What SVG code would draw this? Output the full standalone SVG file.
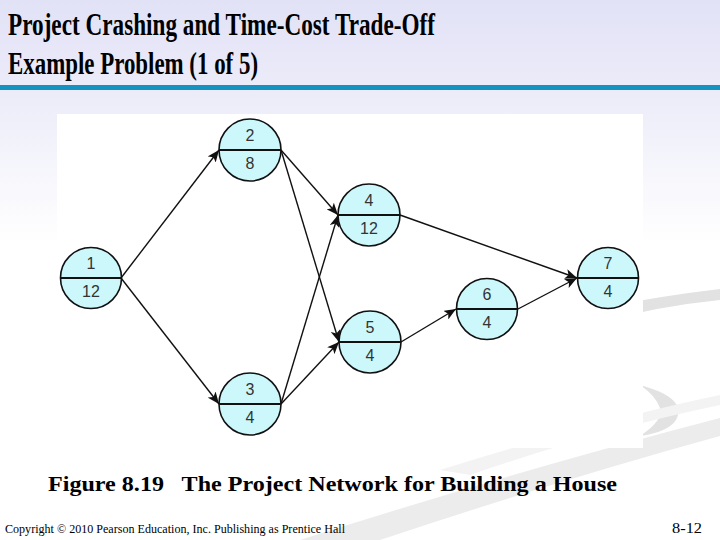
<svg xmlns="http://www.w3.org/2000/svg" width="720" height="540" viewBox="0 0 720 540">
<defs>
<linearGradient id="bg" x1="0" y1="0" x2="0" y2="1">
<stop offset="0" stop-color="#e2e2f7"/>
<stop offset="0.16" stop-color="#ebebf9"/>
<stop offset="0.45" stop-color="#ffffff"/>
<stop offset="1" stop-color="#ffffff"/>
</linearGradient>
<marker id="ah" markerUnits="userSpaceOnUse" markerWidth="14" markerHeight="10" refX="12" refY="5" orient="auto">
<path d="M0,0 L12,5 L0,10 L3,5 Z" fill="#111"/>
</marker>
<style>
.edge{stroke:#111;stroke-width:1.4;fill:none;marker-end:url(#ah)}
.node circle{fill:#ccf8fc;stroke:#111;stroke-width:1.6}
.node line{stroke:#111;stroke-width:1.8}
.node text{font-family:"Liberation Sans",Arial,sans-serif;font-size:16px;fill:#333;text-anchor:middle}
.serif{font-family:"Liberation Serif","Times New Roman",serif;fill:#000}
</style>
</defs>
<rect width="720" height="540" fill="url(#bg)"/>
<!-- swooshes -->
<path d="M600,308 Q660,296 720,289 L720,300 Q660,306 600,322 Z" fill="#e2e2e2"/>
<path d="M640,385 Q688,398 676,420 Q668,432 640,436 Q664,420 660,408 Q656,396 640,385 Z" fill="#e2e2e2"/>
<path d="M300,540 Q520,470 720,418 L720,436 Q560,480 380,540 Z" fill="#ececec"/>
<path d="M440,470 Q600,420 720,395 L720,405 Q600,430 470,475 Z" fill="#f3f3f3"/>
<!-- white panel -->
<rect x="57" y="114" width="586" height="334" fill="#ffffff"/>
<!-- title -->
<text class="serif" x="8" y="35" font-size="31" font-weight="bold" textLength="427" lengthAdjust="spacingAndGlyphs">Project Crashing and Time-Cost Trade-Off</text>
<text class="serif" x="8" y="74" font-size="31" font-weight="bold" textLength="250" lengthAdjust="spacingAndGlyphs">Example Problem (1 of 5)</text>
<rect x="0" y="85" width="720" height="5" fill="#1592c2"/>
<!-- connectors -->
<g id="connectors">
<line class="edge" x1="121" y1="278" x2="219" y2="150"/>
<line class="edge" x1="121" y1="278" x2="219" y2="404"/>
<line class="edge" x1="281" y1="150" x2="338" y2="215"/>
<line class="edge" x1="281" y1="150" x2="339" y2="342"/>
<line class="edge" x1="281" y1="404" x2="338" y2="215"/>
<line class="edge" x1="281" y1="404" x2="339" y2="342"/>
<line class="edge" x1="400" y1="215" x2="577" y2="278"/>
<line class="edge" x1="401" y1="342" x2="456" y2="309"/>
<line class="edge" x1="518" y1="309" x2="577" y2="278"/>
</g>
<!-- nodes -->
<g id="node1" class="node"><circle cx="91" cy="278" r="30.5"/><line x1="60.5" y1="278" x2="121.5" y2="278"/><text x="91" y="269">1</text><text x="91" y="297">12</text></g>
<g id="node2" class="node"><circle cx="250" cy="150" r="31"/><line x1="219" y1="150" x2="281" y2="150"/><text x="250" y="141">2</text><text x="250" y="169">8</text></g>
<g id="node3" class="node"><circle cx="250" cy="404" r="31"/><line x1="219" y1="404" x2="281" y2="404"/><text x="250" y="395">3</text><text x="250" y="423">4</text></g>
<g id="node4" class="node"><circle cx="369" cy="215" r="31"/><line x1="338" y1="215" x2="400" y2="215"/><text x="369" y="206">4</text><text x="369" y="234">12</text></g>
<g id="node5" class="node"><circle cx="370" cy="342" r="31"/><line x1="339" y1="342" x2="401" y2="342"/><text x="370" y="333">5</text><text x="370" y="361">4</text></g>
<g id="node6" class="node"><circle cx="487" cy="309" r="30.5"/><line x1="456.5" y1="309" x2="517.5" y2="309"/><text x="487" y="300">6</text><text x="487" y="328">4</text></g>
<g id="node7" class="node"><circle cx="608" cy="278" r="30.5"/><line x1="577.5" y1="278" x2="638.5" y2="278"/><text x="608" y="269">7</text><text x="608" y="297">4</text></g>
<!-- caption & footer -->
<text class="serif" x="48" y="491" font-size="21" font-weight="bold" textLength="569" lengthAdjust="spacingAndGlyphs" xml:space="preserve">Figure 8.19   The Project Network for Building a House</text>
<text class="serif" x="5" y="533" font-size="13" textLength="340" lengthAdjust="spacingAndGlyphs">Copyright © 2010 Pearson Education, Inc. Publishing as Prentice Hall</text>
<text class="serif" x="672" y="533" font-size="14" textLength="30" lengthAdjust="spacingAndGlyphs">8-12</text>
</svg>
